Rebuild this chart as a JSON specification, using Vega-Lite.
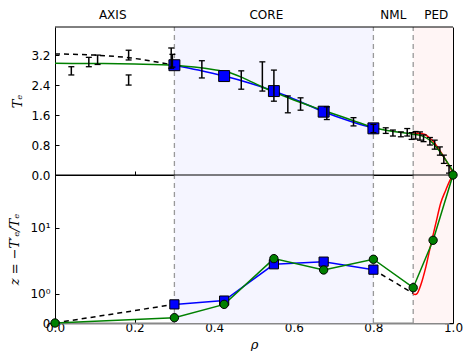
{
  "$schema": "https://vega.github.io/schema/vega-lite/v6.json",
  "background": "white",
  "padding": {"left": 8, "top": 9, "right": 5, "bottom": 0},
  "spacing": 0,
  "bounds": "flush",
  "config": {
    "view": {"stroke": null},
    "axis": {"grid": false, "zindex": 1, "labelFont": "DejaVu Sans", "labelFontSize": 12, "labelColor": "black", "domainColor": "black", "domainWidth": 1, "tickColor": "black", "tickSize": -4, "tickWidth": 1, "labelPadding": 9, "labelFlush": false, "labelOverlap": false, "titleFont": "DejaVu Serif", "titleFontStyle": "italic", "titleFontWeight": "normal", "titleFontSize": 13, "titleColor": "black"}
  },
  "datasets": {
    "regions": [{"x0": 0.3, "x1": 0.8, "c": "core"}, {"x0": 0.9, "x1": 1.0, "c": "ped"}],
    "vlines": [{"x": 0.3}, {"x": 0.8}, {"x": 0.9}],
    "labels": [{"x": 0.145, "t": "AXIS"}, {"x": 0.531, "t": "CORE"}, {"x": 0.85, "t": "NML"}, {"x": 0.958, "t": "PED"}],
    "errs": [
      {"x": 0.041, "lo": 2.67, "hi": 2.89}, {"x": 0.085, "lo": 2.89, "hi": 3.14}, {"x": 0.107, "lo": 2.95, "hi": 3.20},
      {"x": 0.185, "lo": 3.07, "hi": 3.33}, {"x": 0.185, "lo": 2.40, "hi": 2.67}, {"x": 0.292, "lo": 2.85, "hi": 3.39},
      {"x": 0.295, "lo": 2.88, "hi": 3.22}, {"x": 0.369, "lo": 2.59, "hi": 3.05}, {"x": 0.468, "lo": 2.29, "hi": 2.78},
      {"x": 0.521, "lo": 2.24, "hi": 3.02}, {"x": 0.55, "lo": 1.97, "hi": 2.8}, {"x": 0.585, "lo": 1.66, "hi": 2.11},
      {"x": 0.617, "lo": 1.73, "hi": 2.06}, {"x": 0.683, "lo": 1.48, "hi": 1.82}, {"x": 0.75, "lo": 1.31, "hi": 1.53},
      {"x": 0.80, "lo": 1.13, "hi": 1.35}, {"x": 0.831, "lo": 1.11, "hi": 1.26}, {"x": 0.849, "lo": 1.04, "hi": 1.2},
      {"x": 0.869, "lo": 1.02, "hi": 1.15}, {"x": 0.885, "lo": 1.04, "hi": 1.24}, {"x": 0.896, "lo": 0.95, "hi": 1.13},
      {"x": 0.906, "lo": 0.96, "hi": 1.16}, {"x": 0.917, "lo": 0.93, "hi": 1.15}, {"x": 0.926, "lo": 0.89, "hi": 1.07},
      {"x": 0.942, "lo": 0.80, "hi": 1.0}, {"x": 0.954, "lo": 0.69, "hi": 0.93}, {"x": 0.967, "lo": 0.53, "hi": 0.75},
      {"x": 0.977, "lo": 0.31, "hi": 0.53}, {"x": 0.99, "lo": 0.05, "hi": 0.25}
    ],
    "topDash": [{"x": 0, "y": 3.23}, {"x": 0.1, "y": 3.2}, {"x": 0.185, "y": 3.13}, {"x": 0.3, "y": 2.93}],
    "topGreen": [{"x": 0, "y": 2.98}, {"x": 0.1, "y": 2.975}, {"x": 0.2, "y": 2.96}, {"x": 0.3, "y": 2.93},
      {"x": 0.35, "y": 2.88}, {"x": 0.4, "y": 2.81}, {"x": 0.433, "y": 2.75}, {"x": 0.475, "y": 2.58},
      {"x": 0.517, "y": 2.37}, {"x": 0.55, "y": 2.22}, {"x": 0.6, "y": 2.0}, {"x": 0.675, "y": 1.72},
      {"x": 0.75, "y": 1.45}, {"x": 0.8, "y": 1.27}, {"x": 0.85, "y": 1.16}, {"x": 0.9, "y": 1.09},
      {"x": 0.92, "y": 1.05}, {"x": 0.94, "y": 0.94}, {"x": 0.96, "y": 0.72}, {"x": 0.98, "y": 0.43}, {"x": 1.0, "y": 0.1}],
    "topBlue": [{"x": 0.3, "y": 2.93}, {"x": 0.36, "y": 2.8}, {"x": 0.425, "y": 2.64}, {"x": 0.49, "y": 2.45},
      {"x": 0.55, "y": 2.24}, {"x": 0.6, "y": 2.03}, {"x": 0.675, "y": 1.69}, {"x": 0.74, "y": 1.44}, {"x": 0.8, "y": 1.245}],
    "topRed": [{"x": 0.9, "y": 1.12}, {"x": 0.92, "y": 1.11}, {"x": 0.93, "y": 1.08}, {"x": 0.94, "y": 1.0},
      {"x": 0.95, "y": 0.9}, {"x": 0.96, "y": 0.76}, {"x": 0.97, "y": 0.6}, {"x": 0.98, "y": 0.43}, {"x": 0.99, "y": 0.25}, {"x": 1.0, "y": 0.05}],
    "topSquares": [{"x": 0.3, "y": 2.93}, {"x": 0.425, "y": 2.64}, {"x": 0.55, "y": 2.24}, {"x": 0.675, "y": 1.69}, {"x": 0.8, "y": 1.245}],
    "botBlue": [{"x": 0.3, "y": 0.55}, {"x": 0.425, "y": 0.70}, {"x": 0.55, "y": 3.25}, {"x": 0.675, "y": 3.55}, {"x": 0.8, "y": 2.7}],
    "botGreen": [{"x": 0, "y": 0}, {"x": 0.3, "y": 0.13}, {"x": 0.425, "y": 0.55}, {"x": 0.55, "y": 3.92}, {"x": 0.675, "y": 2.67}, {"x": 0.8, "y": 3.84}, {"x": 0.9, "y": 1.34}, {"x": 0.95, "y": 6.95}, {"x": 1.0, "y": 44}],
    "botDash": [{"g": "a", "x": 0, "y": 0}, {"g": "a", "x": 0.3, "y": 0.55}, {"g": "b", "x": 0.8, "y": 2.7}, {"g": "b", "x": 0.9, "y": 1.03}],
    "botRed": [{"x": 0.9, "y": 1.02}, {"x": 0.905, "y": 0.97}, {"x": 0.91, "y": 1.02}, {"x": 0.919, "y": 1.5}, {"x": 0.932, "y": 3.0}, {"x": 0.944, "y": 6.0}, {"x": 0.957, "y": 11.5}, {"x": 0.969, "y": 20.2}, {"x": 0.982, "y": 29.2}, {"x": 0.99, "y": 36}, {"x": 1.0, "y": 44}]
  },
  "vconcat": [
    {
      "width": 398, "height": 148,
      "resolve": {"axis": {"y": "independent"}},
      "layer": [
        {"data": {"name": "regions"}, "mark": {"type": "rect", "stroke": null, "strokeWidth": 0},
         "encoding": {
           "x": {"field": "x0", "type": "quantitative", "scale": {"domain": [0, 1], "nice": false, "zero": false}, "axis": {"orient": "bottom", "values": [0, 0.2, 0.4, 0.6, 0.8, 1], "labels": false, "title": null, "labelPadding": 0}},
           "x2": {"field": "x1"},
           "y": {"datum": 0, "type": "quantitative", "scale": {"domain": [0, 3.95], "nice": false, "zero": false}, "axis": null},
           "y2": {"datum": 3.95},
           "color": {"field": "c", "type": "nominal", "scale": {"domain": ["core", "ped"], "range": ["#f5f5ff", "#fff5f5"]}, "legend": null}}},
        {"data": {"name": "vlines"}, "mark": {"type": "rule", "color": "#999999", "strokeDash": [5, 4], "strokeWidth": 1.3},
         "encoding": {"x": {"field": "x", "type": "quantitative"}, "y": {"datum": 0, "type": "quantitative", "scale": {"domain": [0, 3.95], "nice": false, "zero": false}, "axis": null}, "y2": {"datum": 3.95}}},
        {"data": {"values": [{"edge": "top"}]}, "mark": {"type": "rule", "color": "black", "strokeWidth": 1},
         "encoding": {"y": {"datum": 3.95, "type": "quantitative", "scale": {"domain": [0, 3.95], "nice": false, "zero": false}, "axis": null}}},
        {"data": {"name": "topDash"}, "mark": {"type": "line", "color": "black", "strokeWidth": 1.5, "strokeDash": [5, 4], "interpolate": "monotone"},
         "encoding": {"x": {"field": "x", "type": "quantitative"}, "y": {"field": "y", "type": "quantitative", "scale": {"domain": [0, 3.95], "nice": false, "zero": false}, "axis": null}}},
        {"data": {"name": "topBlue"}, "mark": {"type": "line", "color": "#0000ff", "strokeWidth": 1.5, "interpolate": "monotone"},
         "encoding": {"x": {"field": "x", "type": "quantitative"}, "y": {"field": "y", "type": "quantitative", "scale": {"domain": [0, 3.95], "nice": false, "zero": false}, "axis": {"orient": "right", "values": [0, 0.8, 1.6, 2.4, 3.2], "labels": false, "title": null}}}},
        {"data": {"name": "topRed"}, "mark": {"type": "line", "color": "#ff0000", "strokeWidth": 1.5, "interpolate": "monotone"},
         "encoding": {"x": {"field": "x", "type": "quantitative"}, "y": {"field": "y", "type": "quantitative", "scale": {"domain": [0, 3.95], "nice": false, "zero": false}, "axis": null}}},
        {"data": {"name": "topGreen"}, "mark": {"type": "line", "color": "#008000", "strokeWidth": 1.5, "interpolate": "monotone"},
         "encoding": {"x": {"field": "x", "type": "quantitative"}, "y": {"field": "y", "type": "quantitative", "scale": {"domain": [0, 3.95], "nice": false, "zero": false}, "axis": {"orient": "left", "values": [0, 0.8, 1.6, 2.4, 3.2], "format": ".1f", "title": "Tₑ", "titlePadding": 6}}}},
        {"data": {"name": "topSquares"}, "mark": {"type": "point", "shape": "square", "filled": true, "fill": "#0000ff", "stroke": "black", "strokeWidth": 1, "size": 120, "opacity": 1},
         "encoding": {"x": {"field": "x", "type": "quantitative"}, "y": {"field": "y", "type": "quantitative", "scale": {"domain": [0, 3.95], "nice": false, "zero": false}, "axis": null}}},
        {"data": {"name": "errs"}, "mark": {"type": "rule", "color": "black", "strokeWidth": 1.5},
         "encoding": {"x": {"field": "x", "type": "quantitative"}, "y": {"field": "lo", "type": "quantitative", "scale": {"domain": [0, 3.95], "nice": false, "zero": false}, "axis": null}, "y2": {"field": "hi"}}},
        {"data": {"name": "errs"}, "mark": {"type": "tick", "color": "black", "orient": "horizontal", "size": 6, "thickness": 1.3, "opacity": 1},
         "encoding": {"x": {"field": "x", "type": "quantitative"}, "y": {"field": "lo", "type": "quantitative", "scale": {"domain": [0, 3.95], "nice": false, "zero": false}, "axis": null}}},
        {"data": {"name": "errs"}, "mark": {"type": "tick", "color": "black", "orient": "horizontal", "size": 6, "thickness": 1.3, "opacity": 1},
         "encoding": {"x": {"field": "x", "type": "quantitative"}, "y": {"field": "hi", "type": "quantitative", "scale": {"domain": [0, 3.95], "nice": false, "zero": false}, "axis": null}}},
        {"data": {"name": "labels"}, "mark": {"type": "text", "font": "DejaVu Sans", "fontSize": 12, "color": "black", "baseline": "middle", "align": "center"},
         "encoding": {"x": {"field": "x", "type": "quantitative"}, "y": {"datum": 4.27, "type": "quantitative", "scale": {"domain": [0, 3.95], "nice": false, "zero": false}, "axis": null}, "text": {"field": "t"}}}
      ]
    },
    {
      "width": 398, "height": 148,
      "resolve": {"axis": {"y": "independent"}},
      "layer": [
        {"data": {"name": "regions"}, "mark": {"type": "rect", "stroke": null, "strokeWidth": 0},
         "encoding": {
           "x": {"field": "x0", "type": "quantitative", "scale": {"domain": [0, 1], "nice": false, "zero": false}, "axis": {"orient": "bottom", "values": [0, 0.2, 0.4, 0.6, 0.8, 1], "format": ".1f", "title": "ρ", "titlePadding": 5, "labelPadding": 3, "domainColor": "#888888", "domainWidth": 2}},
           "x2": {"field": "x1"},
           "y": {"datum": 0, "type": "quantitative", "scale": {"type": "symlog", "constant": 0.85, "domain": [0, 44], "nice": false, "zero": false}, "axis": null},
           "y2": {"datum": 44},
           "color": {"field": "c", "type": "nominal", "scale": {"domain": ["core", "ped"], "range": ["#f5f5ff", "#fff5f5"]}, "legend": null}}},
        {"data": {"name": "vlines"}, "mark": {"type": "rule", "color": "#999999", "strokeDash": [5, 4], "strokeWidth": 1.3},
         "encoding": {"x": {"field": "x", "type": "quantitative"}, "y": {"datum": 0, "type": "quantitative", "scale": {"type": "symlog", "constant": 0.85, "domain": [0, 44], "nice": false, "zero": false}, "axis": null}, "y2": {"datum": 44}}},
        {"data": {"values": [{"edge": "top"}]}, "mark": {"type": "rule", "color": "black", "strokeWidth": 1},
         "encoding": {"y": {"datum": 44, "type": "quantitative", "scale": {"type": "symlog", "constant": 0.85, "domain": [0, 44], "nice": false, "zero": false}, "axis": null}}},
        {"data": {"name": "botDash"}, "mark": {"type": "line", "color": "black", "strokeWidth": 1.5, "strokeDash": [5, 4]},
         "encoding": {"x": {"field": "x", "type": "quantitative"}, "y": {"field": "y", "type": "quantitative", "scale": {"type": "symlog", "constant": 0.85, "domain": [0, 44], "nice": false, "zero": false}, "axis": null}, "detail": {"field": "g"}}},
        {"data": {"name": "botBlue"}, "mark": {"type": "line", "color": "#0000ff", "strokeWidth": 1.5},
         "encoding": {"x": {"field": "x", "type": "quantitative"}, "y": {"field": "y", "type": "quantitative", "scale": {"type": "symlog", "constant": 0.85, "domain": [0, 44], "nice": false, "zero": false}, "axis": {"orient": "right", "values": [0, 1, 10], "labels": false, "title": null}}}},
        {"data": {"name": "botRed"}, "mark": {"type": "line", "color": "#ff0000", "strokeWidth": 1.5, "interpolate": "monotone"},
         "encoding": {"x": {"field": "x", "type": "quantitative"}, "y": {"field": "y", "type": "quantitative", "scale": {"type": "symlog", "constant": 0.85, "domain": [0, 44], "nice": false, "zero": false}, "axis": null}}},
        {"data": {"name": "botGreen"}, "mark": {"type": "line", "color": "#008000", "strokeWidth": 1.5},
         "encoding": {"x": {"field": "x", "type": "quantitative"}, "y": {"field": "y", "type": "quantitative", "scale": {"type": "symlog", "constant": 0.85, "domain": [0, 44], "nice": false, "zero": false}, "axis": {"orient": "left", "values": [0, 1, 10], "labelExpr": "datum.value == 0 ? '0' : (datum.value == 1 ? '10⁰' : '10¹')", "title": "z = −T′ₑ/Tₑ", "titlePadding": 8}}}},
        {"data": {"name": "botBlue"}, "mark": {"type": "point", "shape": "square", "filled": true, "fill": "#0000ff", "stroke": "black", "strokeWidth": 1, "size": 85, "opacity": 1},
         "encoding": {"x": {"field": "x", "type": "quantitative"}, "y": {"field": "y", "type": "quantitative", "scale": {"type": "symlog", "constant": 0.85, "domain": [0, 44], "nice": false, "zero": false}, "axis": null}}},
        {"data": {"name": "botGreen"}, "mark": {"type": "point", "shape": "circle", "filled": true, "fill": "#008000", "stroke": "black", "strokeWidth": 1, "size": 70, "opacity": 1},
         "encoding": {"x": {"field": "x", "type": "quantitative"}, "y": {"field": "y", "type": "quantitative", "scale": {"type": "symlog", "constant": 0.85, "domain": [0, 44], "nice": false, "zero": false}, "axis": null}}}
      ]
    }
  ]
}
